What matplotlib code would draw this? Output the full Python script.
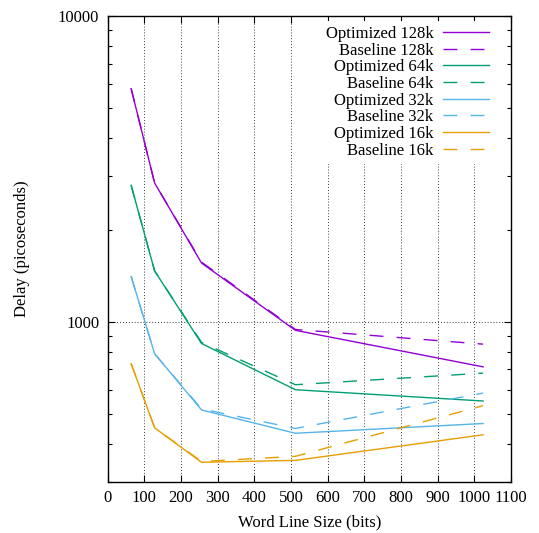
import matplotlib
matplotlib.use("Agg")
import matplotlib.pyplot as plt
from matplotlib.ticker import FixedLocator, LogLocator, NullFormatter, FixedFormatter

x = [64, 128, 256, 512, 1024]
opt_128k = [5800, 2850, 1560, 940, 714]
base_128k = [5800, 2850, 1570, 946, 847]
opt_64k = [2800, 1470, 851, 601, 552]
base_64k = [2800, 1470, 858, 624, 681]
opt_32k = [1410, 788, 516, 433, 466]
base_32k = [1410, 788, 520, 449, 586]
opt_16k = [731, 451, 348, 353, 428]
base_16k = [731, 451, 350, 364, 533]

labels = ["Optimized 128k", "Baseline 128k", "Optimized 64k", "Baseline 64k",
          "Optimized 32k", "Baseline 32k", "Optimized 16k", "Baseline 16k"]
colors = ["#9400D3", "#009E73", "#56B4E9", "#E69F00"]

xticks = [0, 100, 200, 300, 400, 500, 600, 700, 800, 900, 1000, 1100]
yticks = [1000, 10000]

plt.rcParams['font.family'] = ['Liberation Serif', 'DejaVu Serif']
plt.rcParams['font.size'] = 12

fig = plt.figure(figsize=(5.39, 5.33), dpi=100)
ax = fig.add_axes([0.1998, 0.0957, 0.7482, 0.8737])

series = [opt_128k, base_128k, opt_64k, base_64k, opt_32k, base_32k, opt_16k, base_16k]
for i, (s, lab) in enumerate(zip(series, labels)):
    c = colors[i // 2]
    ls = '-' if i % 2 == 0 else (0, (10, 9.5))
    ax.plot(x, s, color=c, lw=1.0, linestyle=ls, label=lab, zorder=3)

ax.set_yscale('log')
ax.set_xlim(0, 1100)
ax.set_ylim(300, 10000)
ax.xaxis.set_major_locator(FixedLocator(xticks))
ax.yaxis.set_major_locator(FixedLocator(yticks))
ax.yaxis.set_major_formatter(FixedFormatter([str(v) for v in yticks]))
ax.yaxis.set_minor_locator(LogLocator(base=10, subs=range(2, 10)))
ax.yaxis.set_minor_formatter(NullFormatter())

ax.tick_params(which='both', direction='in', top=True, right=True, width=0.8)
ax.tick_params(which='major', length=5, pad=6)
ax.tick_params(which='minor', length=3)

ax.grid(True, which='major', axis='both', color='black', linestyle=(0, (1, 2.5)), lw=0.6)
for sp in ax.spines.values():
    sp.set_linewidth(1.0)

ax.set_xlabel("Word Line Size (bits)", labelpad=6)
ax.set_ylabel("Delay (picoseconds)", labelpad=20)

leg = ax.legend(loc='upper right', bbox_to_anchor=(1 - 10 / 403, 1 + 2 / 466),
                markerfirst=False, frameon=True, fancybox=False,
                edgecolor='none', facecolor='white', framealpha=1.0,
                handlelength=2.75, handletextpad=0.6, labelspacing=0.04,
                borderaxespad=0.4, borderpad=0.3)
for t in leg.get_texts():
    t.set_ha('right')
leg.set_zorder(5)

fig.savefig("out.png", dpi=100)
